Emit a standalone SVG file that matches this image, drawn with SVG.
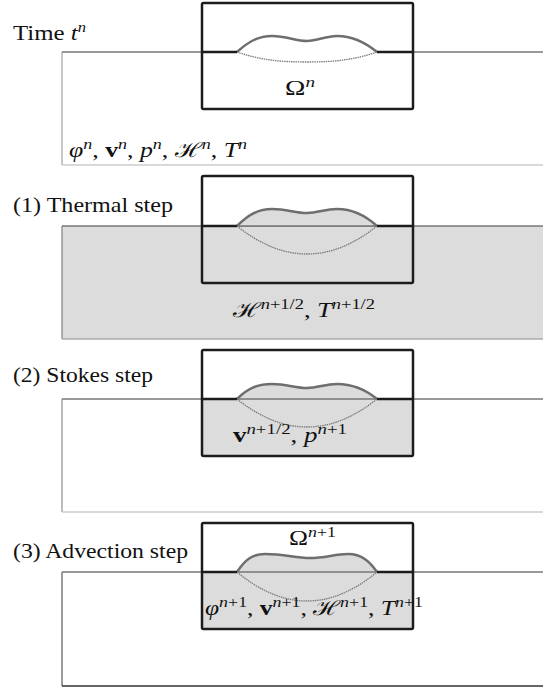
<svg xmlns="http://www.w3.org/2000/svg" width="543" height="690" viewBox="0 0 543 690">
<style>
text{font-family:"Liberation Serif","DejaVu Serif",serif;fill:#111}
.lbl{font-size:21px}
.m{font-size:20px}
.i{font-style:italic}
.b{font-weight:bold}
.sup{font-size:14px}
.ground{stroke:#777;stroke-width:1.3;fill:none}
.box{fill:none;stroke:#1c1c1c;stroke-width:2.5}
.thick{stroke:#1c1c1c;stroke-width:2.5;fill:none}
.top{fill:none;stroke:#6e6e6e;stroke-width:2.5}
.bot{fill:none;stroke:#7a7a7a;stroke-width:1.3;stroke-dasharray:1.5 0.8}
.fill{fill:#dcdcdc}
.white{fill:#fff}
</style>

<g id="panel-time">
  <path d="M62,165 V52" stroke="#aaa" stroke-width="1.3" fill="none"/>
  <line x1="62" y1="52" x2="543" y2="52" class="ground"/>
  <line x1="62" y1="165" x2="543" y2="165" stroke="#ccc" stroke-width="1.3"/>
  <rect x="202" y="3" width="211" height="106" class="white"/>
  <path d="M237,52 C260,60 280,62 307,62 C334,62 354,60 377,52" class="bot"/>
  <path d="M237,52 C248,42 258,36 272,36 C287,36 295,41 307,41 C318,41 325,36 337,36 C352,36 366,43 377,52" class="top"/>
  <path d="M202,52 H237 M377,52 H413" class="thick"/>
  <rect x="202" y="3" width="211" height="106" rx="1.5" class="box"/>
  <text class="lbl" x="13" y="40" textLength="73" lengthAdjust="spacingAndGlyphs">Time <tspan class="i">t</tspan><tspan class="sup i" dy="-8">n</tspan></text>
  <text class="m" x="285" y="95" textLength="30" lengthAdjust="spacingAndGlyphs">Ω<tspan class="sup i" dy="-8">n</tspan></text>
  <text class="m" x="69" y="157" textLength="178" lengthAdjust="spacingAndGlyphs"><tspan class="i">φ</tspan><tspan class="sup i" dy="-8">n</tspan><tspan dy="8">, </tspan><tspan class="b">v</tspan><tspan class="sup i" dy="-8">n</tspan><tspan dy="8">, </tspan><tspan class="i">p</tspan><tspan class="sup i" dy="-8">n</tspan><tspan dy="8">, </tspan><tspan>ℋ</tspan><tspan class="sup i" dy="-8">n</tspan><tspan dy="8">, </tspan><tspan class="i">T</tspan><tspan class="sup i" dy="-8">n</tspan></text>
</g>

<g id="panel-thermal">
  <rect x="62" y="226" width="481" height="113" class="fill"/>
  <path d="M62,339 V226" stroke="#888" stroke-width="1.3" fill="none"/>
  <line x1="62" y1="226" x2="543" y2="226" class="ground"/>
  <line x1="62" y1="339" x2="543" y2="339" stroke="#aaa" stroke-width="1.3"/>
  <rect x="202" y="176" width="211" height="50" class="white"/>
  <path d="M237,226 C248,215 258,209 272,209 C287,209 295,213 307,213 C318,213 325,209 337,209 C352,209 366,216 377,226 Z" class="fill"/>
  <line x1="237" y1="226" x2="377" y2="226" class="ground"/>
  <path d="M237,226 Q307,282 377,226" class="bot"/>
  <path d="M237,226 C248,215 258,209 272,209 C287,209 295,213 307,213 C318,213 325,209 337,209 C352,209 366,216 377,226" class="top"/>
  <path d="M202,226 H237 M377,226 H413" class="thick"/>
  <rect x="202" y="176" width="211" height="107" rx="1.5" class="box"/>
  <text class="lbl" x="13" y="212" textLength="160" lengthAdjust="spacingAndGlyphs">(1) Thermal step</text>
  <text class="m" x="233" y="317" textLength="142" lengthAdjust="spacingAndGlyphs"><tspan>ℋ</tspan><tspan class="sup" dy="-8"><tspan class="i">n</tspan>+1/2</tspan><tspan dy="8">, </tspan><tspan class="i">T</tspan><tspan class="sup" dy="-8"><tspan class="i">n</tspan>+1/2</tspan></text>
</g>

<g id="panel-stokes">
  <path d="M62,512 V399" stroke="#999" stroke-width="1.3" fill="none"/>
  <line x1="62" y1="399" x2="543" y2="399" class="ground"/>
  <line x1="62" y1="512" x2="543" y2="512" stroke="#ccc" stroke-width="1.3"/>
  <rect x="202" y="350" width="211" height="49" class="white"/>
  <rect x="202" y="399" width="211" height="57" class="fill"/>
  <path d="M237,399 C248,388 258,384 272,384 C287,384 295,388 307,388 C318,388 325,384 337,384 C352,384 366,390 377,399 Z" class="fill"/>
  <line x1="237" y1="399" x2="377" y2="399" class="ground"/>
  <path d="M237,399 Q307,455 377,399" class="bot"/>
  <path d="M237,399 C248,388 258,384 272,384 C287,384 295,388 307,388 C318,388 325,384 337,384 C352,384 366,390 377,399" class="top"/>
  <path d="M202,399 H237 M377,399 H413" class="thick"/>
  <rect x="202" y="350" width="211" height="106" rx="1.5" class="box"/>
  <text class="lbl" x="13" y="382" textLength="140" lengthAdjust="spacingAndGlyphs">(2) Stokes step</text>
  <text class="m" x="233" y="442" textLength="114" lengthAdjust="spacingAndGlyphs"><tspan class="b">v</tspan><tspan class="sup" dy="-8"><tspan class="i">n</tspan>+1/2</tspan><tspan dy="8">, </tspan><tspan class="i">p</tspan><tspan class="sup" dy="-8"><tspan class="i">n</tspan>+1</tspan></text>
</g>

<g id="panel-advection">
  <path d="M62,686 V572" stroke="#666" stroke-width="1.3" fill="none"/>
  <line x1="62" y1="572" x2="543" y2="572" class="ground"/>
  <line x1="62" y1="686" x2="543" y2="686" stroke="#333" stroke-width="1.3"/>
  <rect x="202" y="523" width="211" height="49" class="white"/>
  <rect x="202" y="572" width="211" height="57" class="fill"/>
  <path d="M237,572 C245,560 252,554 265,554 C285,554 295,558 310,558 C325,558 335,554 348,554 C362,554 370,562 377,572 Z" class="fill"/>
  <line x1="237" y1="572" x2="377" y2="572" class="ground"/>
  <path d="M237,572 Q307,630 377,572" class="bot"/>
  <path d="M237,572 C245,560 252,554 265,554 C285,554 295,558 310,558 C325,558 335,554 348,554 C362,554 370,562 377,572" class="top"/>
  <path d="M202,572 H237 M377,572 H413" class="thick"/>
  <rect x="202" y="523" width="211" height="106" rx="1.5" class="box"/>
  <text class="lbl" x="13" y="558" textLength="175" lengthAdjust="spacingAndGlyphs">(3) Advection step</text>
  <text class="m" x="289" y="545" textLength="47" lengthAdjust="spacingAndGlyphs">Ω<tspan class="sup" dy="-8"><tspan class="i">n</tspan>+1</tspan></text>
  <text class="m" x="205" y="615" textLength="218" lengthAdjust="spacingAndGlyphs"><tspan class="i">φ</tspan><tspan class="sup" dy="-8"><tspan class="i">n</tspan>+1</tspan><tspan dy="8">, </tspan><tspan class="b">v</tspan><tspan class="sup" dy="-8"><tspan class="i">n</tspan>+1</tspan><tspan dy="8">, </tspan><tspan>ℋ</tspan><tspan class="sup" dy="-8"><tspan class="i">n</tspan>+1</tspan><tspan dy="8">, </tspan><tspan class="i">T</tspan><tspan class="sup" dy="-8"><tspan class="i">n</tspan>+1</tspan></text>
</g>
</svg>
